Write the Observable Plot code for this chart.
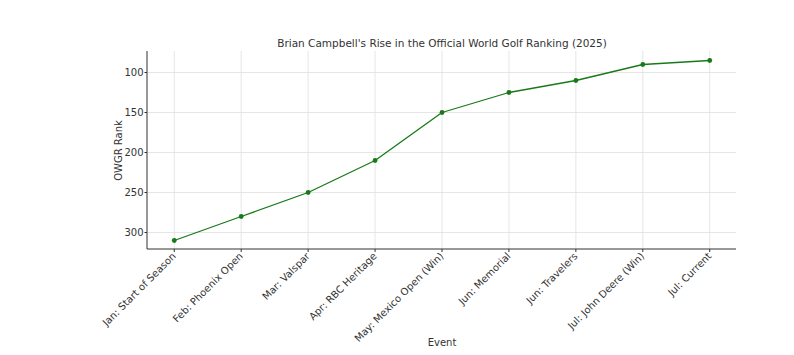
<!DOCTYPE html>
<html>
<head>
<meta charset="utf-8">
<script src="https://cdn.jsdelivr.net/npm/d3@7"></script>
<script src="https://cdn.jsdelivr.net/npm/@observablehq/plot@0.6"></script>
<style>
  html, body { margin: 0; padding: 0; background: #fff; }
  #chart svg { font-family: "DejaVu Sans", sans-serif; }
</style>
</head>
<body>
<div id="chart"></div>
<script>
const events = [
  "Jan: Start of Season",
  "Feb: Phoenix Open",
  "Mar: Valspar",
  "Apr: RBC Heritage",
  "May: Mexico Open (Win)",
  "Jun: Memorial",
  "Jun: Travelers",
  "Jul: John Deere (Win)",
  "Jul: Current"
];
const ranks = [310, 280, 250, 210, 150, 125, 110, 90, 85];
const yTicks = [100, 150, 200, 250, 300];
const title = "Brian Campbell's Rise in the Official World Golf Ranking (2025)";

const data = events.map((e, i) => ({event: e, rank: ranks[i]}));

const chart = Plot.plot({
  width: 794,
  height: 355,
  marginLeft: 147,
  marginRight: 58,
  marginTop: 51,
  marginBottom: 106,
  style: {fontFamily: "DejaVu Sans, sans-serif", fontSize: "10px", color: "#333", background: "#fff"},
  x: {type: "point", domain: events, padding: 0.4, round: false},
  y: {domain: [321.25, 73.75]},
  marks: [
    Plot.gridX(events, {stroke: "#dcdcdc", strokeOpacity: 0.7}),
    Plot.gridY(yTicks, {stroke: "#dcdcdc", strokeOpacity: 0.7}),
    Plot.axisY(yTicks, {tickSize: 2.5, tickPadding: 1.5, fontSize: 10, color: "#333", label: null}),
    Plot.axisX(events, {tickSize: 3, tickPadding: 2, tickRotate: -45, fontSize: 10, color: "#333", label: null}),
    Plot.line(data, {x: "event", y: "rank", stroke: "#177a17", strokeWidth: 1.3}),
    Plot.dot(data, {x: "event", y: "rank", r: 2.4, fill: "#177a17", stroke: null}),
    Plot.text([title], {frameAnchor: "top", dy: -5, fontSize: 10.5, fill: "#333", lineAnchor: "bottom"}),
    Plot.text(["OWGR Rank"], {frameAnchor: "left", dx: -29, rotate: -90, textAnchor: "middle", fontSize: 10, fill: "#333"}),
    Plot.text(["Event"], {frameAnchor: "bottom", dy: 96, fontSize: 10, fill: "#333"})
  ]
});
document.getElementById("chart").append(chart);

// spines: left and bottom
const svg = d3.select(chart);
svg.append("line").attr("x1", 147).attr("x2", 147).attr("y1", 51).attr("y2", 249)
  .attr("stroke", "#333").attr("stroke-width", 1);
svg.append("line").attr("x1", 147).attr("x2", 736).attr("y1", 249).attr("y2", 249)
  .attr("stroke", "#333").attr("stroke-width", 1);
</script>
</body>
</html>
